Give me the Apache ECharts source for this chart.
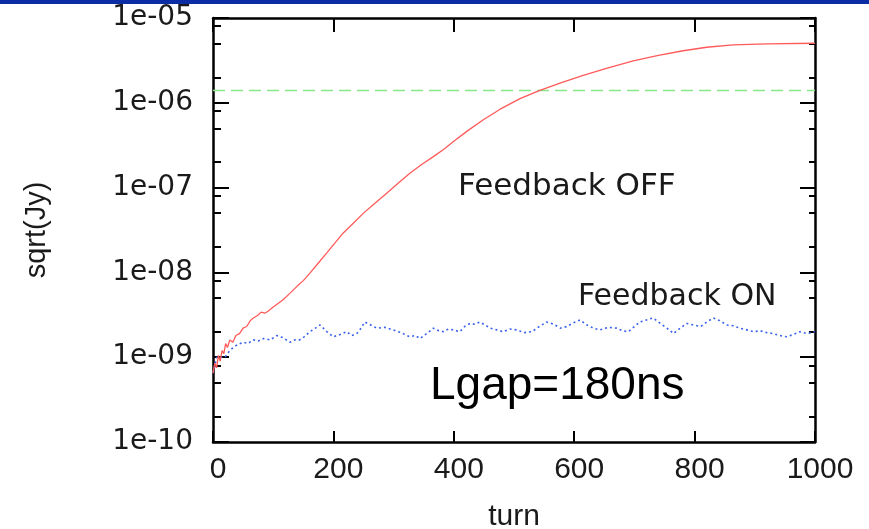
<!DOCTYPE html>
<html>
<head>
<meta charset="utf-8">
<script src="https://cdn.jsdelivr.net/npm/echarts@6/dist/echarts.min.js"></script>
<style>
html,body{margin:0;padding:0;background:#fff;}
#chart{width:869px;height:529px;}
</style>
</head>
<body>
<div id="chart"></div>
<script>
// ---- data ----
var redTurns  = [0, 3, 6, 9, 12, 15, 18, 21, 24, 28, 33, 38, 44, 50, 56, 62, 67, 74, 80, 86, 92, 100, 108, 117, 128, 139, 150, 161, 175, 189, 202, 216, 233, 250, 268, 288, 307, 327, 346, 366, 383, 400, 421, 449, 477, 510, 543, 580, 615, 655, 698, 740, 781, 820, 864, 920, 1000];
var redValues = [6.5e-10, 8.5e-10, 7.5e-10, 1.05e-9, 9e-10, 1.2e-9, 1.1e-9, 1.45e-9, 1.3e-9, 1.6e-9, 1.5e-9, 1.8e-9, 1.9e-9, 2.2e-9, 2.3e-9, 2.7e-9, 2.9e-9, 3.1e-9, 3.4e-9, 3.3e-9, 3.5e-9, 3.9e-9, 4.3e-9, 4.8e-9, 5.7e-9, 6.8e-9, 8.0e-9, 9.8e-9, 1.29e-8, 1.7e-8, 2.2e-8, 2.9e-8, 3.8e-8, 5.0e-8, 6.46e-8, 8.5e-8, 1.12e-7, 1.48e-7, 1.86e-7, 2.32e-7, 2.82e-7, 3.51e-7, 4.57e-7, 6.31e-7, 8.41e-7, 1.12e-6, 1.40e-6, 1.74e-6, 2.11e-6, 2.57e-6, 3.13e-6, 3.63e-6, 4.11e-6, 4.52e-6, 4.81e-6, 4.95e-6, 5.04e-6];

var blueTurns  = [0, 3, 6, 10, 15, 20, 28, 34, 40, 50, 58, 67, 75, 84, 95, 106, 116, 128, 136, 144, 152, 161, 170, 178, 189, 200, 211, 222, 230, 239, 246, 252, 262, 272, 285, 299, 312, 327, 336, 344, 355, 366, 375, 383, 391, 399, 410, 418, 427, 435, 443, 452, 460, 471, 482, 493, 504, 517, 530, 542, 554, 566, 577, 588, 599, 610, 621, 632, 643, 657, 671, 680, 690, 700, 709, 720, 731, 743, 754, 765, 776, 787, 798, 810, 820, 831, 842, 853, 864, 875, 887, 898, 909, 920, 930, 942, 953, 964, 975, 987, 1000];
var blueValues = [6.5e-10, 8e-10, 1.0e-9, 1.0e-9, 1.0e-9, 1.0e-9, 1.2e-9, 1.3e-9, 1.4e-9, 1.5e-9, 1.45e-9, 1.6e-9, 1.55e-9, 1.66e-9, 1.6e-9, 1.8e-9, 1.7e-9, 1.5e-9, 1.6e-9, 1.6e-9, 1.75e-9, 2.0e-9, 2.2e-9, 2.4e-9, 2.0e-9, 1.74e-9, 1.85e-9, 2.0e-9, 1.8e-9, 1.9e-9, 2.2e-9, 2.6e-9, 2.4e-9, 2.2e-9, 2.25e-9, 2.1e-9, 1.95e-9, 1.74e-9, 1.8e-9, 1.66e-9, 1.9e-9, 2.2e-9, 2.05e-9, 2.0e-9, 2.15e-9, 2.1e-9, 2.0e-9, 2.3e-9, 2.5e-9, 2.45e-9, 2.6e-9, 2.4e-9, 2.2e-9, 2.1e-9, 2.0e-9, 2.15e-9, 2.1e-9, 1.95e-9, 2.0e-9, 2.3e-9, 2.6e-9, 2.45e-9, 2.2e-9, 2.3e-9, 2.55e-9, 2.75e-9, 2.4e-9, 2.2e-9, 2.1e-9, 2.25e-9, 2.2e-9, 2.05e-9, 2.0e-9, 2.3e-9, 2.6e-9, 2.75e-9, 2.9e-9, 2.5e-9, 2.2e-9, 1.9e-9, 2.2e-9, 2.5e-9, 2.4e-9, 2.3e-9, 2.6e-9, 2.9e-9, 2.7e-9, 2.4e-9, 2.35e-9, 2.2e-9, 2.1e-9, 2.0e-9, 2.05e-9, 1.95e-9, 1.9e-9, 1.8e-9, 1.74e-9, 1.85e-9, 2.0e-9, 1.9e-9, 2.0e-9];

var thresholdTurns  = [0, 1000];
var thresholdValues = [1.4e-6, 1.4e-6];

var xTickValues = [0, 200, 400, 600, 800, 1000];
var yMajorTicks = [1e-10, 1e-9, 1e-8, 1e-7, 1e-6, 1e-5];
var yTickLabels = ['1e-10', '1e-09', '1e-08', '1e-07', '1e-06', '1e-05'];
var yMinorTicks = [2e-10, 5e-10, 8e-10, 2e-9, 5e-9, 8e-9, 2e-8, 5e-8, 8e-8, 2e-7, 5e-7, 8e-7, 2e-6, 5e-6, 8e-6];

var xTitle = 'turn';
var yTitle = 'sqrt(Jy)';
var labelOff = 'Feedback OFF';
var labelOn = 'Feedback ON';
var labelGap = 'Lgap=180ns';

// ---- chart ----
function pairs(xs, ys) { return xs.map(function (x, i) { return [x, ys[i]]; }); }
function yLabel(v) {
  var e = Math.round(Math.log10(v));
  for (var i = 0; i < yMajorTicks.length; i++) {
    if (Math.round(Math.log10(yMajorTicks[i])) === e) return yTickLabels[i];
  }
  return '';
}

var chart = echarts.init(document.getElementById('chart'), null, {renderer: 'canvas'});
var axisLineStyle = {color: '#000', width: 2.5};
var tickStyle = {color: '#000', width: 2};

var yBase = {
  type: 'log', logBase: 10, min: 1e-10, max: 1e-5,
  splitLine: {show: false}, minorTick: {show: false}
};

chart.setOption({
  animation: false,
  backgroundColor: '#fff',
  grid: {left: 213, right: 54, top: 18, bottom: 87, containLabel: false, outerBoundsMode: 'none'},
  xAxis: [
    {
      type: 'value', position: 'bottom', min: 0, max: 1000, interval: 200,
      axisLine: {show: true, lineStyle: axisLineStyle},
      axisTick: {show: true, inside: true, length: 11, lineStyle: tickStyle, customValues: xTickValues},
      axisLabel: {show: true, margin: 13, fontFamily: 'Liberation Sans', fontSize: 30, color: '#1a1a1a',
                  padding: [0, 0, 0, 10],
                  customValues: xTickValues, formatter: function (v) { return String(v); }},
      splitLine: {show: false},
      name: xTitle, nameLocation: 'middle', nameGap: 60,
      nameTextStyle: {fontFamily: 'Liberation Sans', fontSize: 30, color: '#1a1a1a'}
    },
    {
      type: 'value', position: 'top', min: 0, max: 1000, interval: 200,
      axisLine: {show: true, lineStyle: axisLineStyle},
      axisTick: {show: true, inside: true, length: 14, lineStyle: tickStyle, customValues: xTickValues},
      axisLabel: {show: false},
      splitLine: {show: false}
    }
  ],
  yAxis: [
    Object.assign({}, yBase, {
      position: 'left',
      axisLine: {show: true, lineStyle: axisLineStyle},
      axisTick: {show: true, inside: true, length: 16, lineStyle: tickStyle, customValues: yMajorTicks},
      axisLabel: {show: true, margin: 20, fontFamily: 'DejaVu Sans', fontSize: 28, color: '#1a1a1a',
                  customValues: yMajorTicks, formatter: yLabel},
      name: yTitle, nameLocation: 'middle', nameGap: 162, nameRotate: 90,
      nameTextStyle: {fontFamily: 'Liberation Sans', fontSize: 29, color: '#1a1a1a'}
    }),
    Object.assign({}, yBase, {
      position: 'left',
      axisLine: {show: false},
      axisTick: {show: true, inside: true, length: 8, lineStyle: tickStyle, customValues: yMinorTicks},
      axisLabel: {show: false}
    }),
    Object.assign({}, yBase, {
      position: 'right',
      axisLine: {show: true, lineStyle: axisLineStyle},
      axisTick: {show: true, inside: true, length: 15, lineStyle: tickStyle, customValues: yMajorTicks},
      axisLabel: {show: false}
    }),
    Object.assign({}, yBase, {
      position: 'right',
      axisLine: {show: false},
      axisTick: {show: true, inside: true, length: 6, lineStyle: tickStyle, customValues: yMinorTicks},
      axisLabel: {show: false}
    })
  ],
  series: [
    {
      type: 'line', xAxisIndex: 0, yAxisIndex: 0, showSymbol: false, silent: true,
      data: pairs(thresholdTurns, thresholdValues),
      lineStyle: {color: '#86e886', width: 1.5, type: [12, 6]}
    },
    {
      type: 'line', xAxisIndex: 0, yAxisIndex: 0, showSymbol: false, silent: true,
      data: pairs(blueTurns, blueValues),
      lineStyle: {color: '#3a62ee', width: 1.6, type: [2, 3]}
    },
    {
      type: 'line', xAxisIndex: 0, yAxisIndex: 0, showSymbol: false, silent: true,
      data: pairs(redTurns, redValues),
      lineStyle: {color: '#ff5a5a', width: 1.3}
    }
  ],
  graphic: [
    {type: 'rect', left: 0, top: 0, shape: {width: 869, height: 4}, style: {fill: '#0a2da6'}},
    {type: 'text', left: 458, top: 171, style: {text: labelOff, font: '31px "DejaVu Sans"', fill: '#1a1a1a'}},
    {type: 'text', left: 578, top: 282, style: {text: labelOn, font: '30px "DejaVu Sans"', fill: '#1a1a1a'}},
    {type: 'text', left: 430, top: 363, style: {text: labelGap, font: '46px "Liberation Sans"', fill: '#000'}}
  ]
});
</script>
</body>
</html>
